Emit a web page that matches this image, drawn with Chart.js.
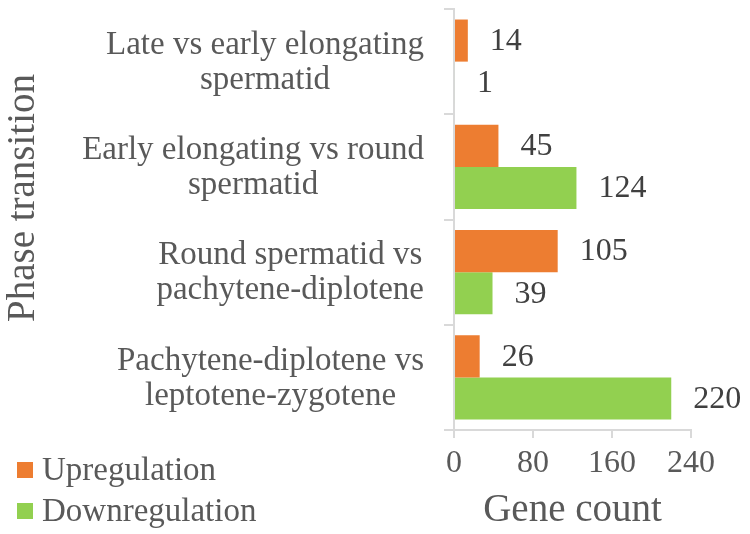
<!DOCTYPE html>
<html>
<head>
<meta charset="utf-8">
<script src="https://cdn.jsdelivr.net/npm/chart.js@4.4.1/dist/chart.umd.min.js"></script>
<style>
  html, body { margin: 0; padding: 0; background: #fff; }
  #wrap { width: 750px; height: 534px; }
</style>
</head>
<body>
<div id="wrap"><canvas id="c"></canvas></div>
<script>
// Phase transitions, top to bottom, each split over two lines
const categories = [
  ['Late vs early elongating', 'spermatid'],
  ['Early elongating vs round', 'spermatid'],
  ['Round spermatid vs', 'pachytene-diplotene'],
  ['Pachytene-diplotene vs', 'leptotene-zygotene'],
];
const upregulation = [14, 45, 105, 26];
const downregulation = [1, 124, 39, 220];
const xTicks = [0, 80, 160, 240];

const SERIF = "'Liberation Serif', 'Times New Roman', serif";
const TEXT = '#595959';
const VALUE = '#404040';
const AXIS = '#d9d9d9';

// y labels: each label centred on its own widest line, right edge 30px off the axis
const categoryLabels = {
  id: 'categoryLabels',
  afterDraw(chart) {
    const { ctx } = chart;
    const y = chart.scales.y;
    ctx.save();
    ctx.font = `33px ${SERIF}`;
    ctx.fillStyle = TEXT;
    ctx.textAlign = 'center';
    ctx.textBaseline = 'middle';
    chart.data.labels.forEach((lines, i) => {
      const cy = y.getPixelForValue(i);
      const w = Math.max(...lines.map(l => ctx.measureText(l).width));
      const cx = y.right - 30 - w / 2;
      lines.forEach((l, j) => {
        ctx.fillText(l, cx, cy + 1 + (j - (lines.length - 1) / 2) * 35);
      });
    });

    // axis title, sits a bit above the plot's middle like the original
    ctx.font = `39px ${SERIF}`;
    ctx.translate(24, 198);
    ctx.rotate(-Math.PI / 2);
    ctx.fillText('Phase transition', 0, 0);
    ctx.restore();
  },
};

// value next to the end of every bar
const valueLabels = {
  id: 'valueLabels',
  afterDatasetsDraw(chart) {
    const { ctx } = chart;
    ctx.save();
    ctx.font = `32px ${SERIF}`;
    ctx.fillStyle = VALUE;
    ctx.textAlign = 'left';
    ctx.textBaseline = 'middle';
    chart.data.datasets.forEach((ds, di) => {
      chart.getDatasetMeta(di).data.forEach((bar, i) => {
        ctx.fillText(String(ds.data[i]), bar.x + 22, bar.y + 1);
      });
    });
    ctx.restore();
  },
};

// legend sits bottom-left, under the category labels
const cornerLegend = {
  id: 'cornerLegend',
  afterDraw(chart) {
    const { ctx } = chart;
    ctx.save();
    ctx.font = `33px ${SERIF}`;
    ctx.textAlign = 'left';
    ctx.textBaseline = 'middle';
    chart.data.datasets.forEach((ds, i) => {
      const cy = 470 + i * 41;
      ctx.fillStyle = ds.backgroundColor;
      ctx.fillRect(17, cy - 8, 16, 16);
      ctx.fillStyle = TEXT;
      ctx.fillText(ds.label, 42, cy + 1);
    });
    ctx.restore();
  },
};

new Chart(document.getElementById('c'), {
  type: 'bar',
  data: {
    labels: categories,
    datasets: [
      { label: 'Upregulation', data: upregulation, backgroundColor: '#ed7d31' },
      { label: 'Downregulation', data: downregulation, backgroundColor: '#92d050' },
    ],
  },
  options: {
    indexAxis: 'y',
    responsive: true,
    maintainAspectRatio: false,
    animation: false,
    devicePixelRatio: 1,
    categoryPercentage: 0.8,
    barPercentage: 1.0,
    layout: { padding: { top: 9, right: 59, left: 0, bottom: 0 } },
    plugins: {
      legend: { display: false },
      tooltip: { enabled: false },
    },
    scales: {
      x: {
        min: 0,
        max: 240,
        afterBuildTicks: (s) => { s.ticks = xTicks.map(v => ({ value: v })); },
        afterFit: (s) => { s.height = 104; },
        ticks: { font: { family: SERIF, size: 32 }, color: TEXT, padding: 6, maxRotation: 0 },
        grid: { drawOnChartArea: false, color: AXIS, lineWidth: 2, tickLength: 8 },
        border: { color: AXIS, width: 2 },
        title: {
          display: true,
          text: 'Gene count',
          font: { family: SERIF, size: 39 },
          color: TEXT,
          padding: { top: 0, bottom: 0 },
        },
      },
      y: {
        afterFit: (s) => { s.width = 454; },
        ticks: { display: false },
        grid: { drawOnChartArea: false, color: AXIS, lineWidth: 2, tickLength: 10 },
        border: { color: AXIS, width: 2 },
        title: { display: false },
      },
    },
  },
  plugins: [categoryLabels, valueLabels, cornerLegend],
});
</script>
</body>
</html>
